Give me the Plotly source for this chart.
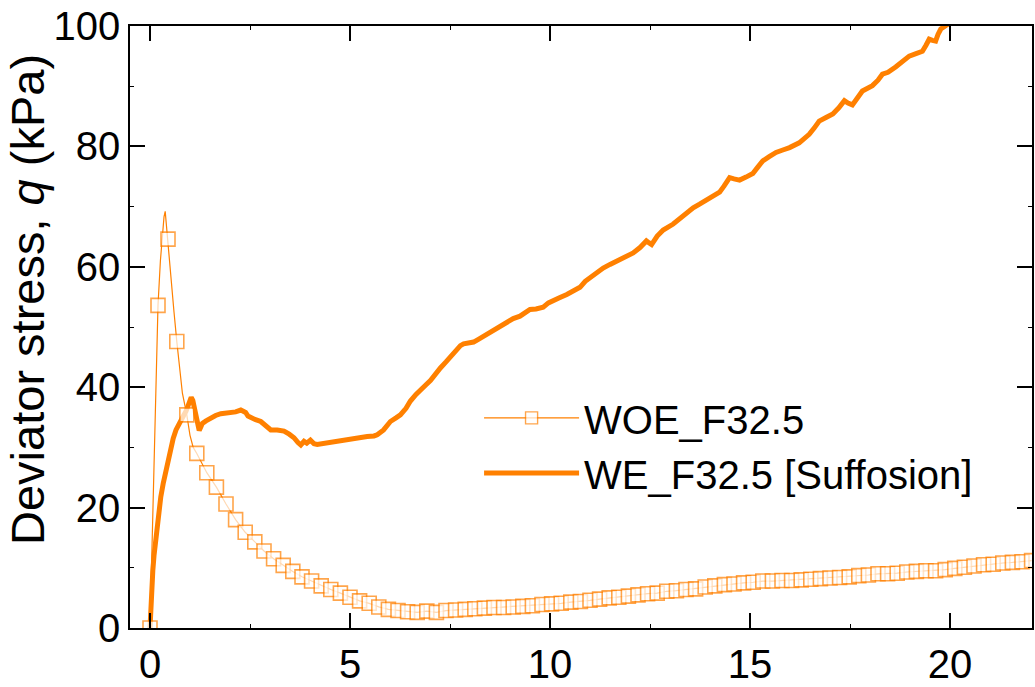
import plotly.graph_objects as go

# ---------------- data ----------------
# WOE_F32.5 : points shown with square markers
woe_marker_strain = [0.00, 0.20, 0.45, 0.67, 0.92, 1.17, 1.42, 1.66, 1.90, 2.14, 2.38, 2.62, 2.85, 3.09,
                     3.33, 3.57, 3.80, 4.04, 4.28, 4.52, 4.76, 5.00, 5.24, 5.48, 5.72, 5.96, 6.20, 6.44,
                     6.68, 6.92, 7.16, 7.40, 7.64, 7.88, 8.12, 8.36, 8.60, 8.84, 9.08, 9.32, 9.56, 9.80,
                     10.04, 10.28, 10.52, 10.76, 11.00, 11.24, 11.48, 11.72, 11.96, 12.20, 12.44, 12.68,
                     12.92, 13.16, 13.40, 13.64, 13.88, 14.12, 14.36, 14.60, 14.84, 15.08, 15.32, 15.56,
                     15.80, 16.04, 16.28, 16.52, 16.76, 17.00, 17.24, 17.48, 17.72, 17.96, 18.20, 18.44,
                     18.68, 18.92, 19.16, 19.40, 19.64, 19.88, 20.12, 20.36, 20.60, 20.84, 21.08, 21.32,
                     21.56, 21.80, 22.04]
woe_marker_q = [0.0, 53.6, 64.6, 47.6, 35.4, 29.0, 25.8, 23.4, 20.6, 18.0, 15.9, 14.3, 12.8, 11.5,
                10.4, 9.4, 8.5, 7.8, 7.0, 6.4, 5.8, 5.1, 4.5, 4.1, 3.5, 3.1, 2.9, 2.7,
                2.6, 2.8, 2.6, 2.9, 3.0, 3.1, 3.2, 3.3, 3.4, 3.4, 3.5, 3.6, 3.7, 3.9,
                4.0, 4.1, 4.3, 4.4, 4.6, 4.8, 5.0, 5.1, 5.3, 5.5, 5.7, 5.8,
                6.1, 6.2, 6.4, 6.5, 6.8, 7.0, 7.2, 7.3, 7.5, 7.6, 7.8, 7.8,
                7.9, 7.9, 8.0, 8.1, 8.2, 8.3, 8.4, 8.5, 8.7, 8.8, 9.0, 9.0,
                9.1, 9.3, 9.4, 9.5, 9.5, 9.7, 9.9, 10.1, 10.3, 10.5, 10.6, 10.8,
                10.9, 11.0, 11.2]
# WOE_F32.5 : extra recorded points between markers (peak region)
woe_line_strain = [0.05, 0.10, 0.15, 0.26, 0.31, 0.35, 0.38, 0.41, 0.49, 0.54, 0.60, 0.73, 0.81, 1.00, 1.08]
woe_line_q = [14.0, 28.0, 41.0, 61.0, 66.0, 68.3, 69.2, 66.8, 61.0, 57.4, 52.5, 43.5, 39.0, 32.0, 30.0]

# WE_F32.5 [Suffosion]
we_strain = [0.00, 0.02, 0.04, 0.07, 0.10, 0.15, 0.20, 0.27, 0.33, 0.40, 0.46, 0.52, 0.58, 0.65, 0.71,
             0.77, 0.84, 0.90, 0.96, 1.00, 1.03, 1.07, 1.11, 1.15, 1.19, 1.23, 1.27, 1.31, 1.40, 1.52,
             1.64, 1.77, 1.90, 2.02, 2.14, 2.27, 2.33, 2.39, 2.45, 2.52, 2.64, 2.77, 2.90, 3.02, 3.18,
             3.35, 3.48, 3.60, 3.70, 3.77, 3.85, 3.92, 4.01, 4.10, 4.18, 4.35, 4.51, 4.75, 5.01, 5.20,
             5.43, 5.60, 5.68, 5.84, 6.01, 6.15, 6.26, 6.40, 6.51, 6.65, 6.76, 6.90, 7.01, 7.13, 7.26,
             7.40, 7.51, 7.60, 7.67, 7.76, 7.84, 7.96, 8.09, 8.22, 8.34, 8.55, 8.75, 8.90, 9.08, 9.25,
             9.40, 9.50, 9.65, 9.83, 9.96, 10.08, 10.25, 10.42, 10.60, 10.75, 10.88, 11.00, 11.17, 11.33,
             11.50, 11.66, 11.85, 12.08, 12.25, 12.41, 12.47, 12.54, 12.68, 12.83, 13.08, 13.25, 13.41,
             13.58, 13.74, 13.95, 14.16, 14.24, 14.35, 14.49, 14.60, 14.74, 14.90, 15.07, 15.20, 15.32,
             15.48, 15.65, 15.82, 15.99, 16.23, 16.35, 16.48, 16.60, 16.73, 16.90, 17.07, 17.22, 17.36,
             17.45, 17.56, 17.68, 17.81, 18.06, 18.20, 18.31, 18.45, 18.64, 18.81, 18.98, 19.15, 19.31,
             19.40, 19.48, 19.56, 19.64, 19.70, 19.77, 19.90, 20.05, 20.30]
we_q = [0.0, 4.0, 7.0, 9.5, 12.0, 15.5, 18.0, 21.8, 24.0, 26.0, 28.3, 30.2, 31.5, 32.9, 33.8,
        34.6, 35.3, 36.0, 37.0, 37.8, 38.3, 37.8, 36.5, 34.5, 33.3, 32.8, 33.4, 34.0, 34.4, 34.9,
        35.3, 35.6, 35.7, 36.0, 35.9, 36.2, 36.1, 35.8, 35.2, 34.9, 34.6, 34.3, 33.6, 32.9, 32.9,
        32.7, 32.2, 31.6, 30.8, 30.4, 31.0, 30.7, 31.2, 30.6, 30.5, 30.7, 30.8, 31.0, 31.4, 31.5,
        31.8, 31.9, 32.1, 32.9, 34.3, 34.9, 35.4, 36.5, 37.7, 38.8, 39.6, 40.4, 41.1, 42.2, 43.2,
        44.2, 45.0, 45.8, 46.3, 46.9, 47.2, 47.3, 47.5, 48.0, 48.5, 49.2, 50.0, 50.8, 51.4, 51.8,
        52.4, 52.9, 53.0, 53.3, 54.0, 54.3, 54.9, 55.4, 56.0, 56.6, 57.6, 58.2, 59.0, 59.8,
        60.4, 60.9, 61.6, 62.3, 63.2, 64.3, 64.0, 63.7, 65.1, 66.1, 67.1, 68.0, 69.0,
        69.8, 70.4, 71.2, 72.0, 72.4, 73.4, 74.8, 74.6, 74.4, 74.9, 75.5, 76.6, 77.6,
        78.3, 79.0, 79.4, 79.8, 80.6, 81.3, 82.0, 83.0, 84.2, 84.8, 85.4, 86.4, 87.6,
        87.2, 86.9, 88.0, 89.2, 90.1, 91.0, 92.0, 92.3, 93.2, 94.2, 95.0, 95.4, 95.8,
        96.8, 97.8, 97.6, 97.5, 98.6, 99.5, 100.1, 100.6, 101.5]

x_tick_vals = [0, 5, 10, 15, 20]
y_tick_vals = [0, 20, 40, 60, 80, 100]

ORANGE = "#FF8000"
FONT = "Liberation Sans, Arial, sans-serif"

# merge WOE marker points and line-only points into one ordered series
woe_pts = sorted([(s, q, True) for s, q in zip(woe_marker_strain, woe_marker_q)] +
                 [(s, q, False) for s, q in zip(woe_line_strain, woe_line_q)])
woe_x = [p[0] for p in woe_pts]
woe_y = [p[1] for p in woe_pts]
woe_size = [14 if p[2] else 0 for p in woe_pts]
woe_lw = [1.6 if p[2] else 0 for p in woe_pts]

fig = go.Figure()
fig.add_trace(go.Scatter(
    x=we_strain, y=we_q, mode="lines", name="WE_F32.5 [Suffosion]",
    line=dict(color=ORANGE, width=5), legendrank=2))
fig.add_trace(go.Scatter(
    x=woe_x, y=woe_y, mode="lines+markers", name="WOE_F32.5",
    line=dict(color=ORANGE, width=1.2),
    marker=dict(symbol="square", size=woe_size, color="white",
                line=dict(color=ORANGE, width=woe_lw)),
    legendrank=1))

axis_common = dict(
    showline=True, linecolor="black", linewidth=1.5, mirror="ticks",
    ticks="inside", ticklen=15, tickwidth=1.5, tickcolor="black",
    showgrid=False, zeroline=False,
    tickfont=dict(family=FONT, size=40, color="black"),
)

fig.update_xaxes(range=[-0.5, 22.05], tickvals=x_tick_vals,
                 minor=dict(ticks="inside", ticklen=4, tickwidth=1, tickcolor="black", dtick=2.5, tick0=0),
                 **axis_common)
fig.update_yaxes(range=[0, 100], tickvals=y_tick_vals,
                 minor=dict(ticks="inside", ticklen=4, tickwidth=1, tickcolor="black", dtick=10, tick0=0),
                 **axis_common)

fig.add_annotation(
    text="Deviator stress, <i>q</i> (kPa)", textangle=-90,
    xref="paper", yref="paper", x=-0.113, y=0.545, xanchor="center", yanchor="middle",
    showarrow=False, font=dict(family=FONT, size=47, color="black"))

fig.update_layout(
    width=1035, height=687,
    margin=dict(l=130, r=1, t=26, b=59),
    plot_bgcolor="white", paper_bgcolor="white",
    showlegend=True,
    legend=dict(x=0.387, y=0.403, xanchor="left", yanchor="top",
                font=dict(family=FONT, size=40, color="black"),
                itemwidth=95,
                bgcolor="rgba(0,0,0,0)", borderwidth=0, tracegroupgap=0),
)

fig.write_html("out.html")
